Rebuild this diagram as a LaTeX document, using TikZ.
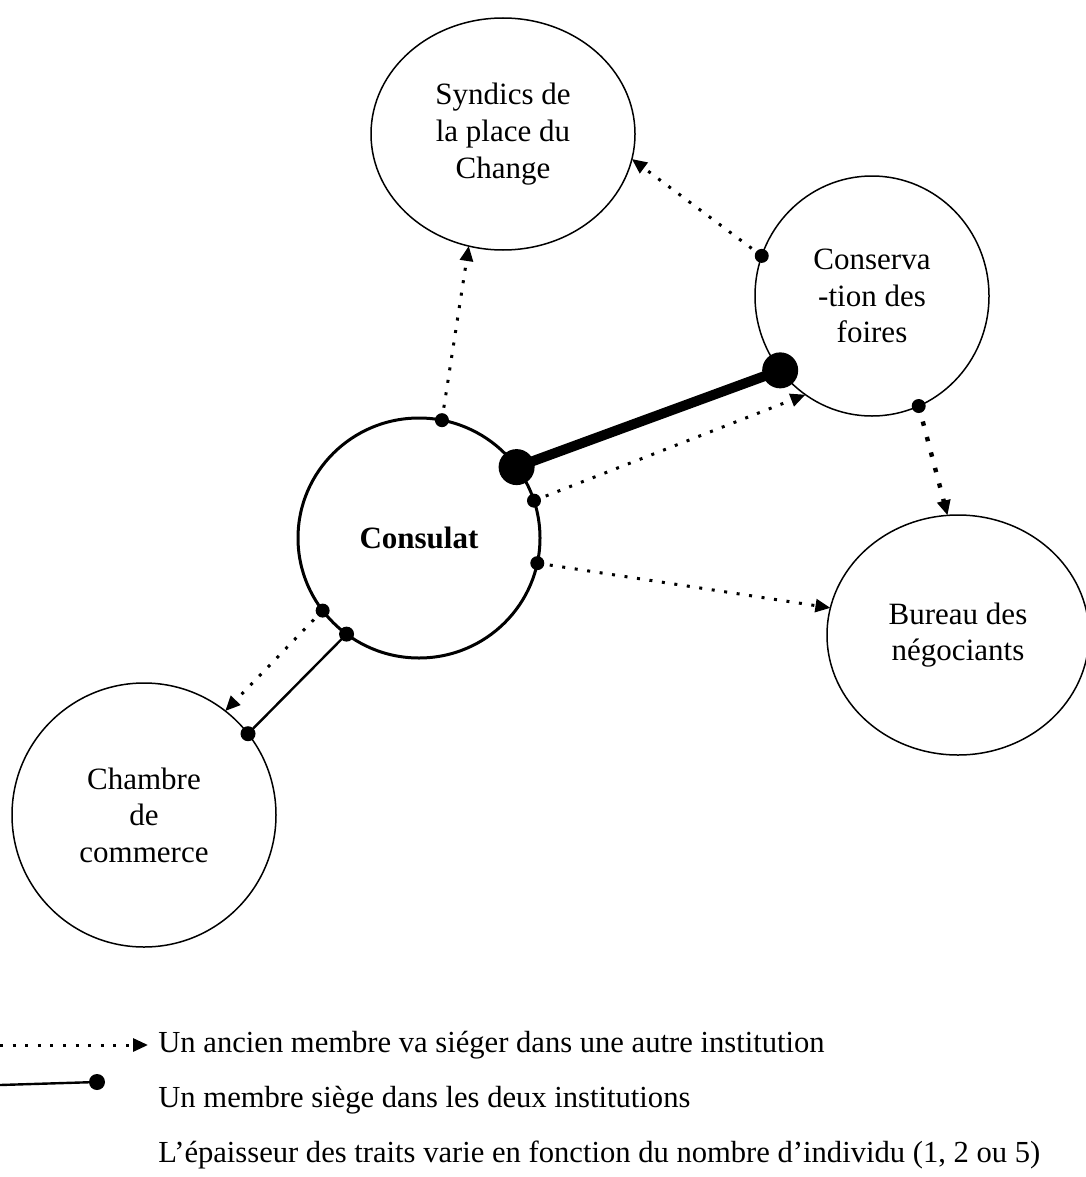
\documentclass[tikz,border=0pt]{standalone}
\usepackage{fontspec}
\setmainfont{Liberation Serif}
\usetikzlibrary{shapes.geometric,arrows.meta}

\begin{document}
\begin{tikzpicture}[x=0.5pt,y=-0.5pt,
    inst/.style={draw,ellipse,line width=0.75pt,inner sep=0pt,outer sep=0pt,
        align=center,font=\fontsize{15.5}{18.3}\selectfont},
    ancien/.style={line width=1.5pt,dash pattern=on 1.5pt off 4.8pt,
        -{Triangle[length=7.5pt,width=6.5pt]}},
    ancienbis/.style={line width=2.2pt,dash pattern=on 2.2pt off 5.8pt,
        -{Triangle[length=7.5pt,width=6.5pt]}},
    legende/.style={anchor=west,inner sep=0pt,font=\fontsize{15.3}{18}\selectfont}]
    \useasboundingbox (0,0) rectangle (1086,1177);
    % les institutions
    \node[inst,minimum width=132pt,minimum height=116pt] (syndics) at (503,134) {Syndics de\\la place du\\Change};
    \node[inst,minimum width=117pt,minimum height=120pt] (foires) at (872,296) {Conserva\\-tion des\\foires};
    \node[inst,line width=1.5pt,minimum width=121pt,minimum height=120pt] (consulat) at (419,538) {\textbf{Consulat}};
    \node[inst,minimum width=131pt,minimum height=120pt] (bureau) at (958,635) {Bureau des\\négociants};
    \node[inst,minimum width=132pt,minimum height=132pt] (chambre) at (144,815) {Chambre\\de\\commerce};
    % anciens membres
    \draw[ancien] (consulat.79) -- (syndics.253);
    \draw[ancien] (foires.160) -- (syndics.349);
    \draw[ancien] (consulat.18) -- (foires.236);
    \draw[ancienbis] (foires.293) -- (bureau.95);
    \draw[ancien] (consulat.348) -- (bureau.168);
    \draw[ancien] (consulat.217) -- (chambre.52);
    \foreach \p in {consulat.79,foires.160,consulat.18,foires.293,consulat.348,consulat.217}
        \fill (\p) circle (7);
    % membres dans les deux institutions
    \draw[line width=5pt] (consulat.36) -- (foires.219);
    \fill (consulat.36) circle (18) (foires.219) circle (18);
    \draw[line width=1.2pt] (consulat.233) -- (chambre.38);
    \fill (consulat.233) circle (7.5) (chambre.38) circle (7.5);
    % legende
    \node[legende] (legA) at (158,1045) {Un ancien membre va siéger dans une autre institution};
    \node[legende] (legB) at (158,1100) {Un membre siège dans les deux institutions};
    \node[legende] (legC) at (158,1155) {L’épaisseur des traits varie en fonction du nombre d’individu (1, 2 ou 5)};
    \coordinate (debA) at (0,1045);
    \coordinate (finA) at (148,1045);
    \coordinate (debB) at (0,1085);
    \coordinate (finB) at (97,1082);
    \draw[ancien] (debA) -- (finA);
    \draw[line width=1.2pt] (debB) -- (finB);
    \fill (finB) circle (8);
\end{tikzpicture}
\end{document}
